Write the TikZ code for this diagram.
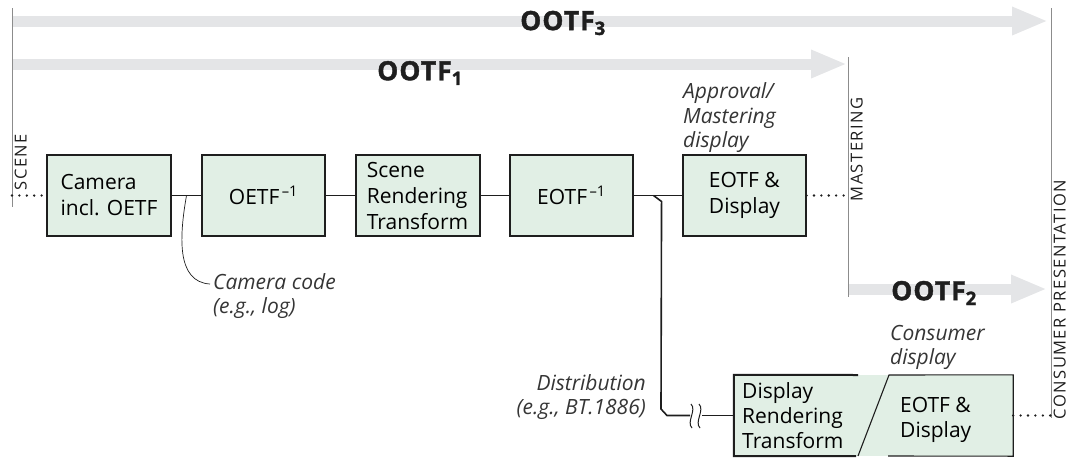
\documentclass[tikz,border=0pt]{standalone}
\usepackage{fontspec}
\setmainfont{Open Sans}
\usetikzlibrary{arrows.meta,calc}
\definecolor{boxfill}{HTML}{E1EFE5}
\definecolor{bandgray}{HTML}{E4E5E7}
\definecolor{stagegray}{HTML}{8C8C8C}
\definecolor{ink}{HTML}{1E1E1E}
\begin{document}
\begin{tikzpicture}[x=1pt,y=-1pt,
  blk/.style={draw=ink, line width=1.1pt, fill=boxfill, minimum width=123pt,
    minimum height=81pt, inner sep=0pt, align=left,
    font=\fontsize{21}{26}\selectfont},
  keyblk/.style={blk, line width=2pt},
  boxtext/.style={inner sep=0pt, align=left, font=\fontsize{21}{25}\selectfont},
  note/.style={inner sep=0pt, text=ink!90,
    font=\fontsize{21}{24.5}\selectfont\itshape},
  stageline/.style={draw=stagegray, line width=1pt},
  stagelabel/.style={rotate=90, anchor=north west, inner sep=1.5pt, text=ink,
    font=\fontsize{16.5}{17}\selectfont\addfontfeatures{LetterSpace=9}},
  ootfband/.style={draw=bandgray, line width=11pt,
    -{Triangle[width=26pt,length=36pt]}},
  ootflabel/.style={inner sep=0pt, text=ink,
    font=\fontsize{26.5}{26.5}\selectfont\bfseries\addfontfeatures{FakeBold=1.6,LetterSpace=4}},
  link/.style={draw=ink, line width=1.2pt},
  branch/.style={draw=ink, line width=1.6pt},
  dots/.style={draw=ink, line width=2.6pt, line cap=round, dash pattern=on 0pt off 7.4pt},
  leader/.style={draw=ink, line width=0.7pt}
]
\useasboundingbox (0,0) rectangle (1072,459);

% ---- stage boundaries ----
\coordinate (sceneTop) at (12,8);
\coordinate (sceneBot) at (12,207);
\coordinate (mastTop) at (848,57);
\coordinate (mastBot) at (848,297);
\coordinate (consTop) at (1051,8);
\coordinate (consBot) at (1051,418);

% ---- OOTF bands ----
\coordinate (o3a) at (12,21);   \coordinate (o3b) at (1048,21);
\coordinate (o1a) at (12,64);   \coordinate (o1b) at (847,64);
\coordinate (o2a) at (848,289); \coordinate (o2b) at (1047,289);
\draw[ootfband] (o3a) -- (o3b);
\draw[ootfband] (o1a) -- (o1b);
\draw[ootfband] (o2a) -- (o2b);
\node[ootflabel] (ootf3) at (563,23) {OOTF\textsubscript{3}};
\node[ootflabel] (ootf1) at (420,73) {OOTF\textsubscript{1}};
\node[ootflabel] (ootf2) at (934,293) {OOTF\textsubscript{2}};

\draw[stageline] (sceneTop) -- (sceneBot);
\draw[stageline] (mastTop) -- (mastBot);
\draw[stageline] (consTop) -- (consBot);
\node[stagelabel] (lscene) at (13,192) {SCENE};
\node[stagelabel] (lmast) at (849,203) {MASTERING};
\node[stagelabel] (lcons) at (1052,421) {CONSUMER PRESENTATION};

% ---- production chain ----
\node[blk, minimum width=124pt] (cam) at (109,195.5) {Camera\\incl. OETF};
\node[blk] (oetf) at (263.5,195.5) {OETF\textsuperscript{\,–1}};
\node[keyblk, minimum width=124pt] (srt) at (417.5,195.5) {Scene\\Rendering\\Transform};
\node[blk] (eotfinv) at (571.5,195.5) {EOTF\textsuperscript{\,–1}};
\node[blk] (mdisp) at (744.5,195.5) {EOTF \&\\Display};

\coordinate (sceneIn) at (12,195.5);
\coordinate (mastOut) at (848,195.5);
\draw[dots] (sceneIn) -- (cam.west);
\draw[dots] (mdisp.east) -- (mastOut);
\draw[link] (cam) -- (oetf);
\draw[link] (oetf) -- (srt);
\draw[link] (srt) -- (eotfinv);
\draw[link] (eotfinv) -- (mdisp);

\node[note, anchor=south west, align=left] (approval) at (683,153)
  {Approval/\\Mastering\\display};

% ---- camera code leader ----
\node[note, anchor=north west, align=left] (ccode) at (213,273)
  {Camera code\\(e.g., log)};
\coordinate (ccTap) at ($(cam.east)!0.5!(oetf.west)$);
\coordinate (ccEnd) at ($(ccode.north west)+(-3,11)$);
\draw[leader] (ccTap) .. controls +(-7,40) and (176,282) .. (ccEnd);

% ---- consumer display unit ----
\node[fill=boxfill, minimum width=279pt, minimum height=81pt, inner sep=0pt]
  (dbox) at (873.5,415.5) {};
\draw[ink, line width=2pt] (858,375) -- (dbox.north west) -- (dbox.south west) -- (856,456);
\draw[ink, line width=1.1pt] (858,456) -- (889,375) -- (dbox.north east)
  -- (dbox.south east) -- (888,456);
\node[boxtext, anchor=north west] (drt) at (742,382) {Display\\Rendering\\Transform};
\node[boxtext, anchor=north west] (cdisp) at (900,397) {EOTF \&\\Display};
\draw[dots] (dbox.east) -- (consBot |- dbox.east);

\node[note, anchor=south west, align=left] (consumer) at (890,370)
  {Consumer\\display};

% ---- distribution branch ----
\coordinate (tap) at ($(eotfinv.east)+(20,0)$);
\coordinate (brkA) at (690,415.5);
\coordinate (brkB) at (702,415.5);
\draw[branch] (tap) -- ++(8,6) -- (661,409) -- (667,415.5) -- (brkA);
\draw[branch] (brkB) -- (dbox.west);
\draw[ink, line width=1pt] (691,404) .. controls (697,410) and (686,422) .. (692,428);
\draw[ink, line width=1pt] (699,404) .. controls (705,410) and (694,422) .. (700,428);

\node[note, anchor=south east, align=right] (distrib) at (646,420)
  {Distribution\\(e.g., BT.1886)};
\end{tikzpicture}
\end{document}
